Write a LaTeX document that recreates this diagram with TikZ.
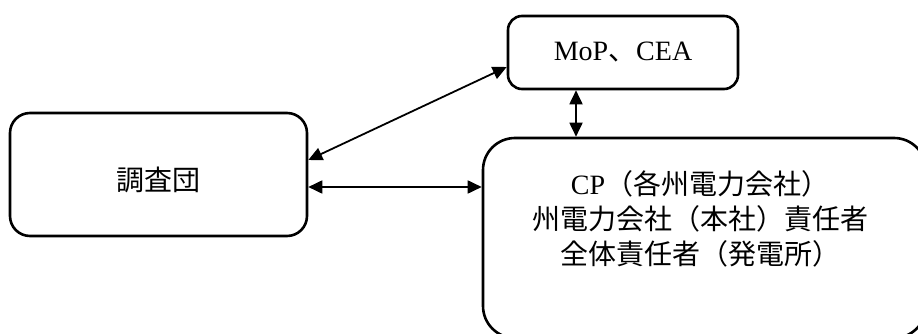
\documentclass[tikz,border=0pt]{standalone}
\usepackage{fontspec}
\setmainfont{Liberation Serif}
\newfontfamily\cjk{Noto Sans CJK JP}
\usetikzlibrary{arrows.meta}
\begin{document}
\begin{tikzpicture}[x=1pt,y=-1pt,
  box/.style={draw,line width=2.6pt,rounded corners=#1,inner sep=0pt},
  lbl/.style={inner sep=0pt,align=center,font=\fontsize{28}{35}\selectfont},
  arr/.style={line width=1.8pt,{Triangle[length=14pt,width=13pt]}-{Triangle[length=14pt,width=13pt]}}]
\useasboundingbox (0,0) rectangle (918,334);
\clip (0,0) rectangle (918,334);
\fill[white] (0,0) rectangle (918,334);
% boxes
\node[box=20pt,minimum width=297pt,minimum height=123pt] (team) at (158.5,174.5) {};
\node[box=14pt,minimum width=230pt,minimum height=73pt] (mop) at (623,52.5) {};
\node[box=32pt,minimum width=443pt,minimum height=200pt] (cp) at (704.5,238) {};
% labels
\node[lbl] (teamtxt) at (158,180) {\cjk 調査団};
\node[lbl] (moptxt) at (623,52) {MoP{\cjk 、}CEA};
\node[lbl] (cptxt) at (700,219) {CP{\cjk （各州電力会社）}\\{\cjk 州電力会社（本社）責任者}\\{\cjk 全体責任者（発電所）}};
% connectors
\draw[arr] ([yshift=14.5pt]team.east) -- ([yshift=-14.5pt]mop.west);
\draw[arr] ([yshift=-12.5pt]team.east) -- ([yshift=-12.5pt]team.east -| cp.west);
\draw[arr] ([xshift=-47pt]mop.south) -- ([xshift=-47pt]mop.south |- cp.north);
\end{tikzpicture}
\end{document}
